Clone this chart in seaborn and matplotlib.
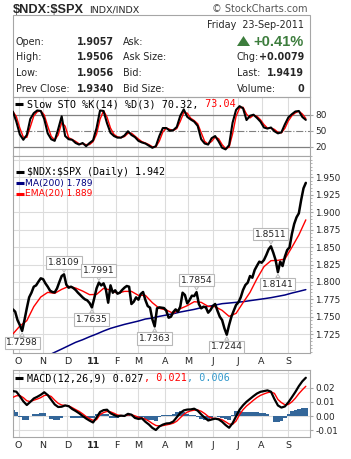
import numpy as np
import pandas as pd
import matplotlib
matplotlib.use("Agg")
import matplotlib.pyplot as plt
import seaborn as sns
from matplotlib.lines import Line2D
from matplotlib.patches import Rectangle, Polygon
from matplotlib.ticker import MultipleLocator

# ---------------------------------------------------------------- data
market_holidays = ["2010-11-25", "2010-12-24", "2011-01-17", "2011-02-21",
                   "2011-04-22", "2011-05-30", "2011-07-04", "2011-09-05"]
sessions = pd.bdate_range("2010-09-24", "2011-09-23", freq="C",
                          holidays=market_holidays)

# ratio closes, every 2nd session
closes = [
    1.7607, 1.7574, 1.7454, 1.7383, 1.7298, 1.7454, 1.7622, 1.7779, 1.7846, 1.7932,
    1.7951, 1.8004, 1.8052, 1.8040, 1.7980, 1.7932, 1.7875, 1.7856, 1.7850, 1.7908,
    1.7999, 1.8085, 1.8109, 1.7961, 1.7918, 1.7932, 1.7913, 1.7885, 1.7846, 1.7813,
    1.7779, 1.7751, 1.7736, 1.7698, 1.7635, 1.7765, 1.7908, 1.7991, 1.7950, 1.7980,
    1.7894, 1.7703, 1.7951, 1.7846, 1.7880, 1.7832, 1.7846, 1.7885, 1.7918, 1.7942,
    1.7932, 1.7684, 1.7717, 1.7779, 1.7746, 1.7827, 1.7856, 1.7741, 1.7655, 1.7631,
    1.7464, 1.7363, 1.7622, 1.7636, 1.7631, 1.7626, 1.7588, 1.7488, 1.7502, 1.7569,
    1.7607, 1.7574, 1.7646, 1.7846, 1.7813, 1.7693, 1.7741, 1.7803, 1.7798, 1.7854,
    1.7684, 1.7622, 1.7646, 1.7636, 1.7560, 1.7598, 1.7655, 1.7684, 1.7588, 1.7502,
    1.7454, 1.7335, 1.7244, 1.7383, 1.7502, 1.7588, 1.7670, 1.7708, 1.7779, 1.7885,
    1.7956, 1.7990, 1.8085, 1.8061, 1.8171, 1.8233, 1.8291, 1.8276, 1.8315, 1.8386,
    1.8467, 1.8511, 1.8420, 1.8315, 1.8141, 1.8291, 1.8228, 1.8362, 1.8458, 1.8496,
    1.8687, 1.8831, 1.8926, 1.8984, 1.9175, 1.9342, 1.9420,
]
# EMA(20), every 6th session
ema20 = [
    1.7254, 1.7368, 1.7445, 1.7646, 1.7784, 1.7851, 1.7837, 1.7894, 1.7937, 1.7913,
    1.7870, 1.7818, 1.7822, 1.7908, 1.7884, 1.7837, 1.7865, 1.7865, 1.7808, 1.7808,
    1.7703, 1.7622, 1.7598, 1.7550, 1.7617, 1.7660, 1.7717, 1.7708, 1.7650, 1.7646,
    1.7593, 1.7507, 1.7550, 1.7703, 1.7851, 1.8047, 1.8219, 1.8305, 1.8310, 1.8329,
    1.8496, 1.8673, 1.8890,
]
# MA(200), every 6th session starting at session 30
ma200 = [
    1.6944, 1.6992, 1.7039, 1.7087, 1.7135, 1.7172, 1.7215, 1.7254, 1.7297, 1.7335,
    1.7364, 1.7392, 1.7416, 1.7440, 1.7469, 1.7483, 1.7507, 1.7526, 1.7545, 1.7569,
    1.7588, 1.7607, 1.7631, 1.7650, 1.7669, 1.7689, 1.7698, 1.7708, 1.7717, 1.7732,
    1.7746, 1.7760, 1.7775, 1.7794, 1.7813, 1.7841, 1.7865, 1.7890,
]
# oscillators, every 3rd session
slow_k = [
    86, 67, 43, 33, 42, 72, 83, 88, 87, 72,
    45, 34, 31, 53, 77, 40, 34, 33, 27, 24,
    27, 21, 27, 32, 55, 88, 87, 64, 46, 40,
    37, 37, 41, 49, 42, 38, 31, 28, 26, 22,
    18, 21, 40, 55, 55, 50, 51, 57, 78, 90,
    76, 71, 67, 59, 34, 26, 24, 36, 40, 30,
    18, 15, 23, 65, 89, 96, 92, 70, 78, 80,
    74, 67, 56, 54, 56, 49, 45, 47, 62, 75,
    81, 86, 87, 75.76, 70.32,
]
macd_line = [
    0.0176, 0.0172, 0.0140, 0.0104, 0.0078, 0.0100, 0.0124, 0.0136, 0.0150, 0.0168,
    0.0148, 0.0115, 0.0082, 0.0064, 0.0066, 0.0075, 0.0070, 0.0050, 0.0036, 0.0020,
    0.0001, -0.0017, -0.0032, -0.0045, -0.0010, 0.0029, 0.0042, 0.0045, 0.0020, 0.0008,
    -0.0002, 0.0003, 0.0001, 0.0016, 0.0010, -0.0013, -0.0020, -0.0016, -0.0040, -0.0059,
    -0.0083, -0.0098, -0.0073, -0.0060, -0.0052, -0.0050, -0.0038, -0.0008, 0.0022, 0.0040,
    0.0046, 0.0047, 0.0052, 0.0038, 0.0012, -0.0011, -0.0031, -0.0024, -0.0018, -0.0023,
    -0.0040, -0.0063, -0.0082, -0.0050, -0.0002, 0.0045, 0.0076, 0.0101, 0.0121, 0.0141,
    0.0159, 0.0171, 0.0176, 0.0181, 0.0172, 0.0120, 0.0075, 0.0060, 0.0068, 0.0097,
    0.0133, 0.0170, 0.0211, 0.0245, 0.0270,
]
macd_signal = [
    0.0132, 0.0143, 0.0145, 0.0130, 0.0108, 0.0102, 0.0112, 0.0120, 0.0130, 0.0145,
    0.0148, 0.0138, 0.0112, 0.0090, 0.0078, 0.0075, 0.0072, 0.0060, 0.0046, 0.0033,
    0.0016, -0.0003, -0.0018, -0.0030, -0.0025, 0.0010, 0.0025, 0.0033, 0.0030, 0.0020,
    0.0008, 0.0004, 0.0002, 0.0008, 0.0010, 0.0002, -0.0008, -0.0012, -0.0022, -0.0035,
    -0.0052, -0.0066, -0.0070, -0.0067, -0.0062, -0.0057, -0.0050, -0.0036, -0.0012, 0.0012,
    0.0028, 0.0037, 0.0042, 0.0043, 0.0034, 0.0018, -0.0002, -0.0014, -0.0017, -0.0018,
    -0.0026, -0.0040, -0.0056, -0.0058, -0.0035, 0.0010, 0.0045, 0.0071, 0.0091, 0.0112,
    0.0131, 0.0146, 0.0156, 0.0165, 0.0170, 0.0160, 0.0117, 0.0095, 0.0080, 0.0082,
    0.0100, 0.0126, 0.0158, 0.0185, 0.0210,
]

# swing highs / lows that get a value tag (session numbers)
pivot_sessions = [8, 44, 68, 74, 122, 158, 184, 222, 228]
pivot_is_high = [False, True, False, True, False, True, False, True, False]

symbol = "$NDX:$SPX"
exchange = "INDX/INDX"
credit = "\u00a9 StockCharts.com"
quote_date = "Friday  23-Sep-2011"
quote_left = [("Open:", "1.9057"), ("High:", "1.9506"),
              ("Low:", "1.9056"), ("Prev Close:", "1.9340")]
quote_mid = ["Ask:", "Ask Size:", "Bid:", "Bid Size:"]
pct_change = "+0.41%"
quote_right = [("Chg:", "+0.0079"), ("Last:", "1.9419"), ("Volume:", "0")]

# ---------------------------------------------------------------- derived series
pos = np.arange(len(sessions))
close_pos = pos[::2]
ema_pos = pos[::6]
ma_pos = pos[30::6]
osc_pos = pos[::3]
slow_d = pd.Series(slow_k).rolling(2, min_periods=1).mean().to_numpy()
macd_hist = np.array(macd_line) - np.array(macd_signal)

month_pos, month_lbl = [], []
for i in range(1, len(sessions)):
    if sessions[i].month != sessions[i - 1].month:
        month_pos.append(pos[i])
        month_lbl.append("11" if sessions[i].month == 1 else sessions[i].strftime("%b")[0])

# ---------------------------------------------------------------- style
sns.set_style("white")
plt.rcParams["font.family"] = ["DejaVu Sans"]
MONO = "DejaVu Sans Mono"
EDGE = "#a6a6a6"
GRID = "#dcdcdc"
RED = "#ff0000"
NAVY = "#000080"
GREEN = "#3d7d3d"

W, H, DPI = 351, 459, 100
L, R = 12.5, 310
X0, X1 = -0.3, 255.6

fig = plt.figure(figsize=(W / DPI, H / DPI), dpi=DPI)
fig.patch.set_facecolor("white")


def fx(x):
    return x / W


def fy(y):
    return 1 - y / H


def panel(top, bottom):
    ax = fig.add_axes([fx(L), fy(bottom), (R - L) / W, (bottom - top) / H])
    ax.set_facecolor("white")
    for s in ax.spines.values():
        s.set_color(EDGE)
        s.set_linewidth(0.8)
    ax.set_xlim(X0, X1)
    for m in month_pos:
        ax.axvline(m, color=GRID, lw=0.8, zorder=0)
    ax.tick_params(axis="y", left=False, right=True, labelleft=False,
                   labelright=True, length=2.2, width=0.8, color=EDGE,
                   pad=1.6, labelsize=6.4)
    ax.tick_params(axis="x", length=0, labelbottom=False, pad=3.0,
                   labelsize=6.8)
    ax.set_xticks([])
    return ax


def month_axis(ax):
    ax.set_xticks(month_pos)
    ax.set_xticklabels(month_lbl)
    ax.tick_params(axis="x", labelbottom=True)
    for t in ax.get_xticklabels():
        if t.get_text() == "11":
            t.set_fontweight("bold")


def legend_dash(x0, x1, y, color):
    fig.add_artist(Line2D([fx(x0), fx(x1)], [fy(y), fy(y)], color=color,
                          lw=2.2, solid_capstyle="butt",
                          transform=fig.transFigure))


def text_run(x, y, pieces, **kw):
    renderer = fig.canvas.get_renderer()
    for s, color in pieces:
        t = fig.text(fx(x), fy(y), s, color=color, ha="left", va="center",
                     parse_math=False, **kw)
        x += t.get_window_extent(renderer=renderer).width


# ---------------------------------------------------------------- header
fig.text(fx(12.7), fy(12.8), symbol, family="Liberation Sans",
         fontweight="bold", fontsize=9.2, va="baseline", parse_math=False)
fig.text(fx(89), fy(12.5), exchange, fontsize=6.8, va="baseline")
fig.text(fx(308), fy(12.5), credit, fontsize=7, color="#555555",
         ha="right", va="baseline")
fig.add_artist(Rectangle((fx(L), fy(97)), (R - L) / W, 82 / H, fill=False,
                         ec=EDGE, lw=0.8, transform=fig.transFigure))
fig.text(fx(304), fy(25.5), quote_date, fontsize=6.9, ha="right", va="center")
row_y = [41.7, 57.2, 73.0, 89.5]
for (lab, val), mid, y in zip(quote_left, quote_mid, row_y):
    fig.text(fx(16), fy(y), lab, fontsize=6.9, va="center")
    fig.text(fx(114.3), fy(y), val, fontsize=6.9, fontweight="bold",
             ha="right", va="center")
    fig.text(fx(123), fy(y), mid, fontsize=6.9, va="center")
fig.add_artist(Polygon([(fx(237), fy(46)), (fx(250), fy(46)), (fx(243.5), fy(36))],
                       closed=True, fc=GREEN, ec="none",
                       transform=fig.transFigure))
fig.text(fx(304), fy(41.5), pct_change, family="Liberation Sans",
         fontweight="bold", fontsize=10.5, color=GREEN, ha="right", va="center")
for (lab, val), y in zip(quote_right, row_y[1:]):
    fig.text(fx(236.5), fy(y), lab, fontsize=6.9, va="center")
    fig.text(fx(304), fy(y), val, fontsize=6.9, fontweight="bold",
             ha="right", va="center")

# ---------------------------------------------------------------- slow stochastics
ax_sto = panel(97, 156)
ax_sto.set_ylim(2.6, 113.2)
ax_sto.axhline(80, color="#808080", lw=0.9, zorder=1)
ax_sto.axhline(20, color="#808080", lw=0.9, zorder=1)
ax_sto.axhline(50, color="#808080", lw=0.8, ls="-.", zorder=1)
sns.lineplot(x=osc_pos, y=slow_d, ax=ax_sto, color=RED, linewidth=1.0, zorder=3)
sns.lineplot(x=osc_pos, y=slow_k, ax=ax_sto, color="black", linewidth=1.5, zorder=4)
ax_sto.set_yticks([20, 50, 80])
ax_sto.set_yticklabels(["20", "50", "80"])
ax_sto.set_xlim(X0, X1)
ax_sto.set_xlabel("")
ax_sto.set_ylabel("")
legend_dash(15, 23, 104, "black")
text_run(27.3, 104.3, [(f"Slow STO %K(14) %D(3) {slow_k[-1]:.2f},", "black"),
                       (f" {slow_d[-1]:.2f}", RED)], family=MONO, fontsize=7.3)

# ---------------------------------------------------------------- price panel
ax_px = panel(156, 353)
ax_px.set_ylim(1.6982, 1.9805)
for lvl in np.arange(1.725, 1.976, 0.025):
    ax_px.axhline(lvl, color=GRID, lw=0.8, zorder=0)
sns.lineplot(x=ma_pos, y=ma200, ax=ax_px, color=NAVY, linewidth=1.1, zorder=2)
sns.lineplot(x=ema_pos, y=ema20, ax=ax_px, color=RED, linewidth=1.0, zorder=3)
sns.lineplot(x=close_pos, y=closes, ax=ax_px, color="black", linewidth=1.8, zorder=4)
ticks = np.round(np.arange(1.725, 1.951, 0.025), 3)
ax_px.set_yticks(ticks)
ax_px.set_yticklabels([f"{t:.3f}" for t in ticks])
ax_px.yaxis.set_minor_locator(MultipleLocator(0.005))
ax_px.tick_params(axis="y", which="minor", right=True, left=False,
                  length=1.2, width=0.6, color=EDGE)
ax_px.set_xlim(X0, X1)
ax_px.set_xlabel("")
ax_px.set_ylabel("")
month_axis(ax_px)

for p, high in zip(pivot_sessions, pivot_is_high):
    v = closes[p // 2]
    ax_px.annotate(f"{v:.4f}", xy=(p, v), xytext=(0, 12 if high else -12),
                   textcoords="offset pixels", ha="center", va="center",
                   fontsize=6.6, annotation_clip=False, zorder=6,
                   bbox=dict(boxstyle="square,pad=0.18", fc="white",
                             ec="#b8b8b8", lw=0.8),
                   arrowprops=dict(arrowstyle="wedge,tail_width=0.45,shrink_factor=0.5",
                                   fc="white", ec="#b8b8b8", lw=0.7,
                                   shrinkA=0, shrinkB=1.5))

legend_dash(16, 24, 171.7, "black")
text_run(26.7, 171.9, [(f"{symbol} (Daily) {closes[-1]:.3f}", "black")],
         family=MONO, fontsize=7.2)
legend_dash(16, 24, 183.3, NAVY)
text_run(25, 183.5, [(f"MA(200) {ma200[-1]:.3f}", NAVY)], fontsize=6.6)
legend_dash(16, 24, 193.6, RED)
text_run(25, 193.8, [(f"EMA(20) {ema20[-1]:.3f}", RED)], fontsize=6.6)

# ---------------------------------------------------------------- MACD panel
ax_m = panel(370, 437)
ax_m.set_ylim(-0.01472, 0.03246)
for lvl in [-0.01, 0.0, 0.01, 0.02, 0.03]:
    ax_m.axhline(lvl, color=GRID, lw=0.8, zorder=0)
ax_m.bar(osc_pos, macd_hist, width=3.0, color="#336699", linewidth=0, zorder=2)
sns.lineplot(x=osc_pos, y=macd_signal, ax=ax_m, color=RED, linewidth=1.0, zorder=3)
sns.lineplot(x=osc_pos, y=macd_line, ax=ax_m, color="black", linewidth=1.6, zorder=4)
ax_m.set_yticks([-0.01, 0.0, 0.01, 0.02])
ax_m.set_yticklabels(["-0.01", "0.00", "0.01", "0.02"])
ax_m.set_xlim(X0, X1)
ax_m.set_xlabel("")
ax_m.set_ylabel("")
month_axis(ax_m)
legend_dash(15, 23, 378.3, "black")
text_run(27.3, 378.5, [(f"MACD(12,26,9) {macd_line[-1]:.3f}", "black"),
                       (f", {macd_signal[-1]:.3f}", RED),
                       (f", {macd_hist[-1]:.3f}", "#3399cc")],
         family=MONO, fontsize=7.3)

fig.savefig("out.png", dpi=DPI, facecolor="white")
